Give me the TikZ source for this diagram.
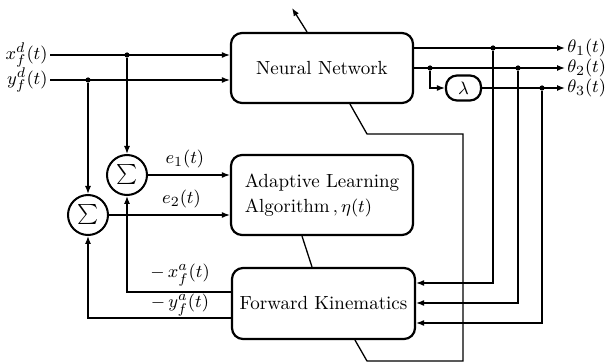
\documentclass[tikz,border=0pt]{standalone}
\usetikzlibrary{arrows.meta}
\begin{document}
\begin{tikzpicture}[x=0.5pt,y=-0.5pt,
  font=\fontsize{9.5}{11.5}\selectfont,
  wire/.style={line width=0.65pt},
  arr/.style={wire,-{Latex[length=4pt,width=3pt]}},
  blockbox/.style={draw,line width=1.1pt,rounded corners=5.5pt,align=left,inner sep=0pt},
  sumnode/.style={draw,circle,line width=1pt,minimum size=20pt,inner sep=0pt},
  junction/.style={fill,circle,inner sep=0pt,minimum size=2.6pt}]
\useasboundingbox (0,0) rectangle (611,363);

% blocks
\node[blockbox,minimum width=91pt,minimum height=35pt] (nn) at (322,68) {Neural Network};
\node[blockbox,minimum width=91pt,minimum height=40pt] (ala) at (322,195)
  {Adaptive Learning\\[1pt]Algorithm$\,,\eta(t)$};
\node[blockbox,minimum width=91.5pt,minimum height=35.5pt] (fk) at (323.5,303.5) {Forward Kinematics};
\node[blockbox,minimum width=17.5pt,minimum height=12.5pt] (lam) at (463.5,88) {$\lambda$};
\node[sumnode] (s1) at (127,175) {$\sum$};
\node[sumnode] (s2) at (88,215) {$\sum$};

% desired position inputs
\coordinate (xin) at (50,55);
\coordinate (yin) at (50,80);
\node[anchor=east,inner sep=1pt] (xlab) at (xin) {$x_f^d(t)$};
\node[anchor=east,inner sep=1pt] (ylab) at (yin) {$y_f^d(t)$};
\draw[arr] (xin) -- (xin -| nn.west);
\draw[arr] (yin) -- (yin -| nn.west);
\node[junction] (d1) at (127,55) {};
\node[junction] (d2) at (88,80) {};
\draw[arr] (d1) -- (s1.north);
\draw[arr] (d2) -- (s2.north);

% error signals
\draw[arr] (s1.east) -- (s1.east -| ala.west) node[pos=0.45,above] {$e_1(t)$};
\draw[arr] (s2.east) -- (s2.east -| ala.west) node[pos=0.6,above] {$e_2(t)$};

% actual position feedback
\coordinate (fx) at (232,292);
\coordinate (fy) at (232,318);
\draw[arr] (fx) -| (s1.south);
\draw[arr] (fy) -| (s2.south);
\node (xalab) at (180,275) {$-\,x_f^a(t)$};
\node (yalab) at (180,305) {$-\,y_f^a(t)$};

% joint angle outputs
\coordinate (o1) at (413,48);
\coordinate (o2) at (413,68);
\coordinate (e1) at (565,48);
\coordinate (e2) at (565,68);
\coordinate (e3) at (565,88);
\draw[arr] (o1) -- (e1);
\draw[arr] (o2) -- (e2);
\node[junction] (d3) at (430,68) {};
\draw[arr] (d3) |- (lam.west);
\draw[arr] (lam.east) -- (e3);
\node[anchor=west,inner sep=1pt] (t1) at (e1) {$\theta_1(t)$};
\node[anchor=west,inner sep=1pt] (t2) at (e2) {$\theta_2(t)$};
\node[anchor=west,inner sep=1pt] (t3) at (e3) {$\theta_3(t)$};

% joint angles into forward kinematics
\node[junction] (j1) at (493,48) {};
\node[junction] (j2) at (518,68) {};
\node[junction] (j3) at (542,88) {};
\draw[arr] (j1) |- (fk.east |- 0,283);
\draw[arr] (j2) |- (fk.east |- 0,303);
\draw[arr] (j3) |- (fk.east |- 0,323);

% learning-rate adaptation path
\draw[wire] (ala.south -| 302,0) -- (fk.north -| 312,0);
\draw[wire] (fk.south -| 355,0) -- (367,361) -- (463,361) -- (463,134)
  -- (367,134) -- (nn.south -| 350,0);
\draw[arr] (nn.north -| 307,0) -- (292,8);
\end{tikzpicture}
\end{document}
